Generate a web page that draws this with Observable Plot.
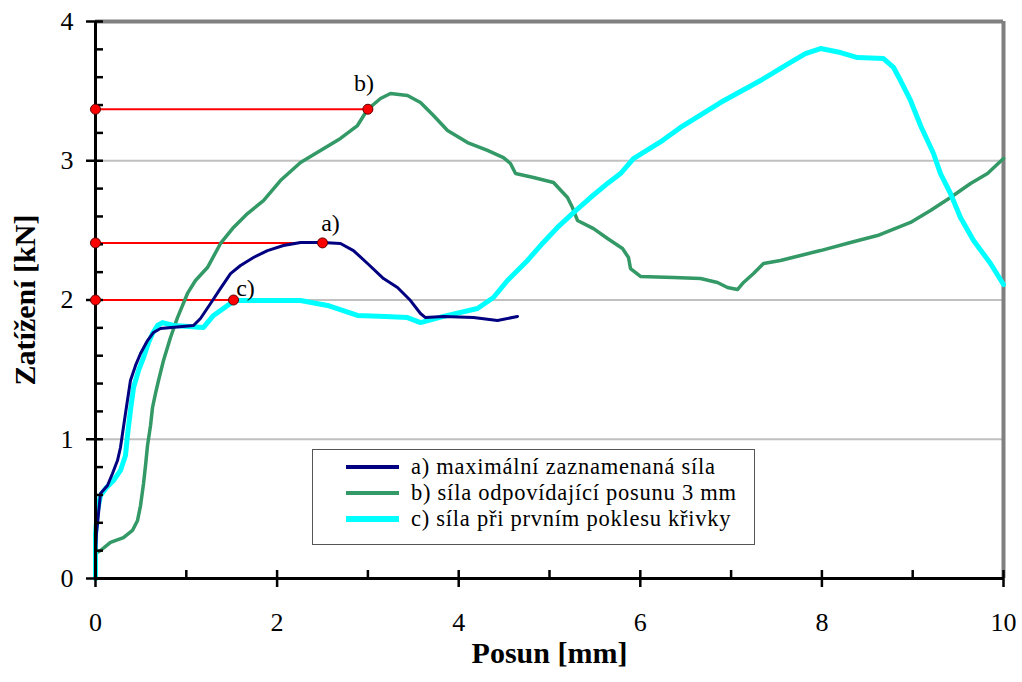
<!DOCTYPE html>
<html>
<head>
<meta charset="utf-8">
<script src="https://cdn.jsdelivr.net/npm/d3@7"></script>
<script src="https://cdn.jsdelivr.net/npm/@observablehq/plot@0.6"></script>
<style>
  html, body { margin: 0; padding: 0; background: #fff; }
  #wrap { position: relative; width: 1022px; height: 682px; font-family: "Liberation Serif", "Times New Roman", serif; }
  #legend { position: absolute; left: 312px; top: 449px; width: 441px; height: 94px; border: 1.5px solid #555; background: #fff; }
  .row { position: absolute; left: 0; height: 21px; display: flex; align-items: center; color: #000; white-space: nowrap; }
  .sw { display: inline-block; width: 53px; margin-left: 33px; margin-right: 12px; }
  .lt { display: inline-block; height: 21px; line-height: 21px; font-size: 22.5px; letter-spacing: 0.75px; font-family: "Liberation Serif", "Times New Roman", serif; }
</style>
</head>
<body>
<div id="wrap"></div>
<script>
// Series (a) maximální zaznamenaná síla
const aX = [0,0,0.011,0.055,0.132,0.187,0.242,0.275,0.330,0.385,0.441,0.496,0.573,0.639,0.716,1.079,1.156,1.267,1.377,1.487,1.597,1.740,1.894,2.070,2.258,2.500,2.698,2.841,2.996,3.172,3.326,3.469,3.579,3.634,3.833,4.163,4.427,4.648];
const aY = [0,0.165,0.323,0.610,0.668,0.754,0.847,0.941,1.185,1.422,1.530,1.616,1.709,1.767,1.795,1.817,1.867,1.975,2.083,2.190,2.248,2.305,2.355,2.391,2.413,2.413,2.406,2.355,2.262,2.154,2.090,1.996,1.903,1.874,1.882,1.874,1.853,1.882];
// Series (b) síla odpovídající posunu 3 mm
const bX = [0,0,0.055,0.165,0.308,0.407,0.463,0.496,0.529,0.551,0.573,0.606,0.628,0.661,0.694,0.749,0.826,0.903,1.013,1.101,1.233,1.377,1.520,1.674,1.850,2.037,2.258,2.478,2.698,2.885,2.996,3.139,3.249,3.436,3.579,3.722,3.877,4.097,4.317,4.493,4.570,4.626,4.824,5.044,5.198,5.253,5.308,5.485,5.639,5.804,5.870,5.892,6.002,6.366,6.663,6.850,6.960,7.070,7.137,7.247,7.357,7.544,7.764,7.985,8.315,8.612,8.976,9.196,9.416,9.637,9.824,10.0];
const bY = [0,0.180,0.201,0.259,0.294,0.345,0.417,0.524,0.682,0.811,0.955,1.099,1.228,1.329,1.422,1.566,1.731,1.874,2.047,2.140,2.233,2.406,2.521,2.621,2.714,2.858,2.987,3.074,3.160,3.253,3.368,3.447,3.483,3.468,3.418,3.325,3.217,3.131,3.074,3.023,2.980,2.908,2.880,2.844,2.736,2.664,2.571,2.513,2.442,2.370,2.305,2.226,2.169,2.162,2.154,2.126,2.090,2.075,2.126,2.190,2.262,2.284,2.320,2.355,2.413,2.463,2.557,2.643,2.736,2.837,2.908,3.016];
// Series (c) síla při prvním poklesu křivky
const cX = [0,0,0,0.022,0.055,0.121,0.198,0.275,0.330,0.352,0.385,0.419,0.474,0.529,0.584,0.628,0.683,0.738,0.859,1.189,1.300,1.454,1.542,1.817,2.258,2.555,2.885,3.194,3.436,3.579,3.833,4.207,4.383,4.537,4.758,4.901,5.088,5.264,5.452,5.639,5.782,5.925,6.244,6.443,6.883,7.324,7.654,7.819,7.985,8.205,8.392,8.678,8.789,8.866,8.976,9.086,9.229,9.306,9.416,9.526,9.670,9.857,10.0];
const cY = [0,0.240,0.320,0.488,0.596,0.654,0.704,0.776,0.883,1.027,1.206,1.372,1.494,1.587,1.695,1.759,1.817,1.838,1.817,1.803,1.889,1.961,1.996,1.996,1.996,1.961,1.889,1.882,1.874,1.838,1.882,1.939,2.018,2.140,2.284,2.391,2.521,2.628,2.736,2.837,2.908,3.016,3.145,3.239,3.418,3.576,3.706,3.770,3.806,3.777,3.741,3.734,3.670,3.576,3.433,3.253,3.052,2.908,2.765,2.592,2.427,2.262,2.111];

// Annotation points
const annLabels = ["a)", "b)", "c)"];
const annX = [2.5, 3.0, 1.52];
const annY = [2.41, 3.37, 2.0];

// Legend
const seriesNames = ["a) maximální zaznamenaná síla", "b) síla odpovídající posunu 3 mm", "c) síla při prvním poklesu křivky"];
const seriesColors = ["#000080", "#339966", "#00ffff"];

// Ticks
const xMajor = [0, 2, 4, 6, 8, 10];
const xMinor = [1, 3, 5, 7, 9];
const yMajor = [0, 1, 2, 3, 4];
const yMinor = [0.2,0.4,0.6,0.8,1.2,1.4,1.6,1.8,2.2,2.4,2.6,2.8,3.2,3.4,3.6,3.8];
const yGrid = [1, 2, 3];

const toRows = (xs, ys) => xs.map((x, i) => ({x, y: ys[i]}));
const A = toRows(aX, aY), B = toRows(bX, bY), C = toRows(cX, cY);
const ann = annLabels.map((label, i) => ({label, x: annX[i], y: annY[i]}));

const W = 1022, H = 682, mT = 21, mR = 19, mB = 104, mL = 95;
const pw = W - mL - mR, ph = H - mT - mB;
const font = "Liberation Serif, Times New Roman, serif";
const annOffsets = [[8, -20], [-4, -26], [12, -12]];

const chart = Plot.plot({
  width: W, height: H,
  marginTop: mT, marginRight: mR, marginBottom: mB, marginLeft: mL,
  style: {fontFamily: font, background: "white", color: "black"},
  x: {domain: [0, 10], axis: null},
  y: {domain: [0, 4], axis: null},
  marks: [
    Plot.ruleY(yGrid, {stroke: "#c0c0c0", strokeWidth: 2}),
    Plot.ruleY([4], {stroke: "#808080", strokeWidth: 4}),
    Plot.ruleX([10], {stroke: "#808080", strokeWidth: 4}),
    Plot.link(ann, {x1: () => 0, x2: "x", y1: "y", y2: "y", stroke: "#ff0000", strokeWidth: 2}),
    Plot.line(B, {x: "x", y: "y", stroke: seriesColors[1], strokeWidth: 3.5, strokeLinejoin: "round"}),
    Plot.line(C, {x: "x", y: "y", stroke: seriesColors[2], strokeWidth: 5, strokeLinejoin: "round"}),
    Plot.line(A, {x: "x", y: "y", stroke: seriesColors[0], strokeWidth: 3, strokeLinejoin: "round"}),
    Plot.ruleX([0], {stroke: "black", strokeWidth: 3}),
    Plot.ruleY([0], {stroke: "black", strokeWidth: 3}),
    Plot.tickY(yMinor.concat(yMajor), {y: d => d, insetRight: pw - 8, stroke: "black", strokeWidth: 2.5}),
    Plot.tickX(xMinor.concat(xMajor), {x: d => d, insetTop: ph - 8, stroke: "black", strokeWidth: 2.5}),
    Plot.axisY(yMajor, {tickSize: 9, tickPadding: 13, fontSize: 26, strokeWidth: 2.5, label: null, tickFormat: d => String(d)}),
    Plot.axisX(xMajor, {tickSize: 9, tickPadding: 25, fontSize: 26, strokeWidth: 2.5, label: null, tickFormat: d => String(d)}),
    Plot.dot(ann, {x: () => 0, y: "y", r: 5, fill: "#ff0000", stroke: "#600000", strokeWidth: 1}),
    Plot.dot(ann, {x: "x", y: "y", r: 5, fill: "#ff0000", stroke: "#600000", strokeWidth: 1}),
    ...ann.map((d, i) => Plot.text([d], {x: "x", y: "y", text: "label", dx: annOffsets[i][0], dy: annOffsets[i][1], fontSize: 24, fontFamily: font, fill: "black"})),
    Plot.text(["Zatížení [kN]"], {frameAnchor: "left", textAnchor: "middle", rotate: -90, dx: -70, text: d => d, fontSize: 30, fontFamily: font, fontWeight: "bold", fill: "black"}),
    Plot.text(["Posun [mm]"], {frameAnchor: "bottom", textAnchor: "middle", dy: 84, text: d => d, fontSize: 30, fontFamily: font, fontWeight: "bold", fill: "black"})
  ]
});

const wrap = document.getElementById("wrap");
wrap.appendChild(chart);

const legend = document.createElement("div");
legend.id = "legend";
const rowTops = [6, 32, 58];
const swH = [4, 4, 6];
seriesNames.forEach((name, i) => {
  const row = document.createElement("div");
  row.className = "row";
  row.style.top = rowTops[i] + "px";
  const sw = document.createElement("span");
  sw.className = "sw";
  sw.style.height = swH[i] + "px";
  sw.style.background = seriesColors[i];
  row.appendChild(sw);
  const t = document.createElement("span");
  t.className = "lt";
  t.textContent = name;
  row.appendChild(t);
  legend.appendChild(row);
});
wrap.appendChild(legend);
</script>
</body>
</html>
